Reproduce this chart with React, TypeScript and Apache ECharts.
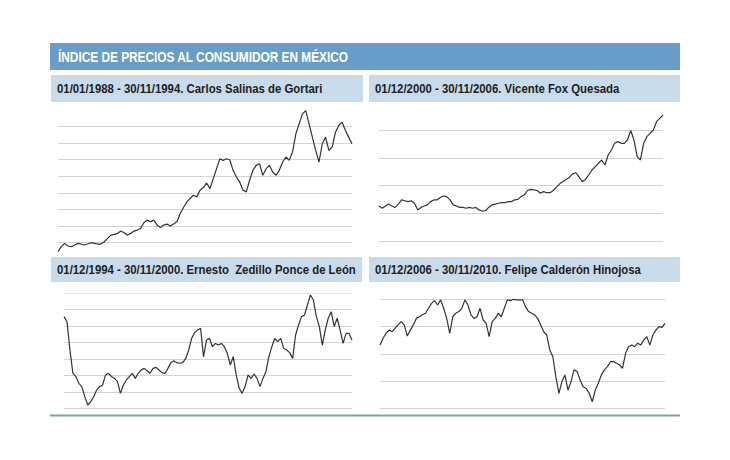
import React, { useEffect, useRef } from "react";
import * as echarts from "echarts";

// Index values (arbitrary index units per panel)
const salinas = [
  46, 76, 96, 80, 76, 86, 96, 92, 86, 92, 100, 96, 92, 92, 106, 126, 146, 150, 156, 170,
  160, 146, 156, 170, 176, 186, 220, 236, 226, 236, 206, 192, 206, 212, 200, 212, 226, 276,
  312, 346, 366, 386, 376, 416, 432, 460, 426, 486, 546, 606, 596, 606, 600, 536, 496, 466,
  416, 406, 476, 536, 566, 576, 506, 546, 566, 526, 506, 536, 586, 616, 596, 646, 756, 816,
  876, 896, 816, 736, 656, 586, 696, 736, 656, 676, 766, 806, 826, 776, 736, 696,
];

const fox = [
  226, 218, 226, 233, 226, 221, 233, 248, 245, 242, 245, 236, 212, 221, 226, 230, 242, 248,
  248, 257, 262, 260, 248, 230, 226, 221, 221, 218, 221, 218, 221, 212, 208, 209, 221, 230,
  233, 236, 238, 238, 242, 242, 248, 250, 260, 266, 282, 286, 284, 282, 272, 278, 274, 274,
  282, 294, 306, 314, 322, 330, 342, 346, 330, 314, 322, 338, 356, 368, 380, 392, 374, 410,
  428, 452, 458, 452, 452, 464, 498, 464, 404, 392, 452, 476, 488, 500, 530, 542, 554,
];

const zedillo = [
  558, 527, 355, 213, 193, 152, 132, 71, 20, 40, 71, 111, 132, 142, 203, 213, 193, 182, 162,
  91, 142, 172, 193, 213, 182, 213, 233, 243, 229, 213, 243, 249, 233, 217, 213, 243, 278,
  290, 278, 274, 278, 304, 355, 426, 460, 477, 487, 314, 416, 426, 375, 395, 385, 395, 375,
  335, 264, 314, 203, 122, 91, 132, 203, 182, 209, 182, 132, 182, 223, 314, 375, 426, 406,
  426, 365, 355, 339, 304, 446, 507, 558, 568, 629, 690, 659, 558, 497, 385, 477, 548, 588,
  497, 548, 477, 395, 456, 456, 416,
];

const calderon = [
  232, 257, 275, 287, 281, 294, 306, 318, 306, 265, 287, 306, 330, 336, 343, 349, 367, 385,
  395, 379, 398, 367, 330, 275, 336, 349, 355, 367, 398, 379, 343, 330, 336, 367, 324, 312,
  263, 318, 330, 349, 336, 367, 398, 395, 400, 398, 398, 398, 373, 355, 349, 343, 330, 306,
  281, 269, 214, 190, 116, 55, 98, 122, 67, 98, 141, 135, 104, 79, 73, 55, 24, 67, 92, 122,
  141, 153, 171, 171, 165, 159, 147, 202, 226, 232, 226, 239, 232, 251, 263, 232, 269, 287,
  300, 297, 312,
];

const mainTitle = "ÍNDICE DE PRECIOS AL CONSUMIDOR EN MÉXICO";
const panelTitles = [
  "01/01/1988 - 30/11/1994. Carlos Salinas de Gortari",
  "01/12/2000 - 30/11/2006. Vicente Fox Quesada",
  "01/12/1994 - 30/11/2000. Ernesto  Zedillo Ponce de León",
  "01/12/2006 - 30/11/2010. Felipe Calderón Hinojosa",
];

const T = "rgba(0,0,0,0)";
const G = "#d3d3d3";
const GL = "#e6e6e6";

const FONT = '"Liberation Sans", Arial, sans-serif';

export default function App() {
  const ref = useRef<HTMLDivElement>(null);

  useEffect(() => {
    if (!ref.current) return;
    const chart = echarts.init(ref.current, null, { renderer: "svg" });

    const panels = [
      { data: salinas, left: 58, top: 93.3, width: 294, height: 166, min: 0, max: 1000,
        colors: [T, G, G, G, G, G, G, G, G, T, T] },
      { data: fox, left: 379, top: 102.25, width: 284, height: 166.5, min: 0, max: 600,
        colors: [T, G, G, G, G, G, T] },
      { data: zedillo, left: 64, top: 293.3, width: 288, height: 115, min: 0, max: 700,
        colors: [G, G, G, G, G, G, G, GL] },
      { data: calderon, left: 380, top: 299.3, width: 285, height: 109, min: 0, max: 400,
        colors: [G, G, G, G, G] },
    ];

    const headerBoxes = [
      { x: 51, y: 75, w: 312, h: 27 },
      { x: 369, y: 75, w: 311, h: 27 },
      { x: 51, y: 257, w: 311, h: 25 },
      { x: 369, y: 257, w: 311, h: 25 },
    ];

    const graphics: any[] = [
      { type: "rect", z: 10, shape: { x: 50, y: 43, width: 630, height: 27 }, style: { fill: "#689dc7" } },
      { type: "text", z: 11, x: 58, y: 57, scaleX: 0.79, style: { text: mainTitle, fill: "#ffffff",
        font: `bold 15px ${FONT}`, textVerticalAlign: "middle" } },
      { type: "rect", z: 10, shape: { x: 50, y: 414.5, width: 630, height: 2 }, style: { fill: "#7c9fa8" } },
    ];
    headerBoxes.forEach((b, i) => {
      graphics.push({ type: "rect", z: 10, shape: { x: b.x, y: b.y, width: b.w, height: b.h },
        style: { fill: "#c7dbea" } });
      graphics.push({ type: "text", z: 11, x: b.x + 6, y: b.y + b.h / 2 + 0.5, scaleX: 0.875,
        style: { text: panelTitles[i], fill: "#1e1e1e", font: `bold 13px ${FONT}`,
          textVerticalAlign: "middle" } });
    });

    chart.setOption({
      animation: false,
      backgroundColor: "#ffffff",
      grid: panels.map((p) => ({ left: p.left, top: p.top, width: p.width, height: p.height })),
      xAxis: panels.map((p, i) => ({
        type: "category", gridIndex: i, boundaryGap: false,
        data: p.data.map((_, j) => j), show: false,
      })),
      yAxis: panels.map((p, i) => ({
        type: "value", gridIndex: i, min: p.min, max: p.max, interval: 100,
        axisLine: { show: false }, axisTick: { show: false }, axisLabel: { show: false },
        splitLine: { show: true, lineStyle: { color: p.colors, width: 1 } },
      })),
      series: panels.map((p, i) => ({
        type: "line", xAxisIndex: i, yAxisIndex: i, data: p.data,
        symbol: "none", showSymbol: false, clip: false, z: 3,
        lineStyle: { color: "#333333", width: 1.2 },
      })),
      graphic: graphics,
    });

    return () => chart.dispose();
  }, []);

  return (
    <div
      ref={ref}
      style={{ position: "fixed", left: 0, top: 0, width: 730, height: 460, background: "#fff" }}
    />
  );
}
